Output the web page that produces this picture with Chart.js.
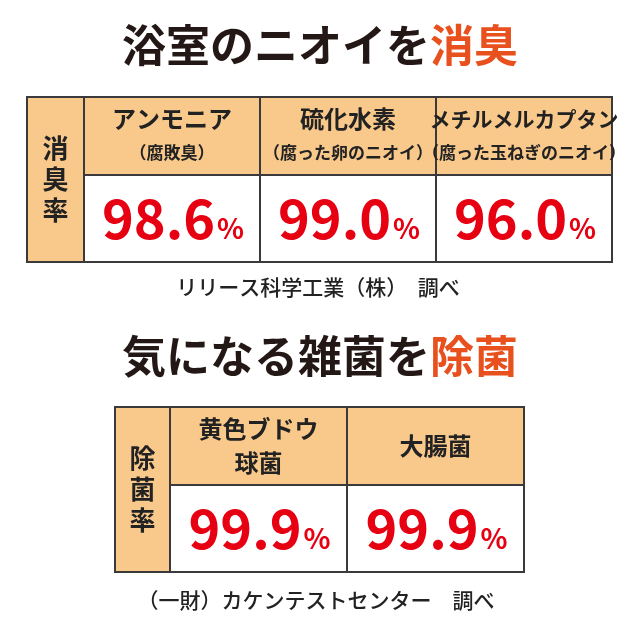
<!DOCTYPE html>
<html><head><meta charset="utf-8">
<script src="https://cdn.jsdelivr.net/npm/chart.js@4"></script>
<style>html,body{margin:0;padding:0;background:#fff}#c{display:block}</style>
</head><body>
<div style="width:640px;height:640px"><canvas id="c"></canvas></div>
<script>
// table 1
var title1 = ["浴室のニオイを", "消臭"];
var rowLabel1 = "消臭率";
var heads1 = [["アンモニア", "（腐敗臭）"], ["硫化水素", "（腐った卵のニオイ）"], ["メチルメルカプタン", "（腐った玉ねぎのニオイ）"]];
var values1 = [98.6, 99.0, 96.0];
var source1 = "リリース科学工業（株）　調べ";
// table 2
var title2 = ["気になる雑菌を", "除菌"];
var rowLabel2 = "除菌率";
var heads2 = [["黄色ブドウ", "球菌"], ["大腸菌"]];
var values2 = [99.9, 99.9];
var source2 = "（一財）カケンテストセンター　調べ";

var FONT = '"Noto Sans CJK JP", sans-serif';
var ORANGE = "#f9c98c", RED = "#e60012", ACC = "#e8501e";

function drawTable(ctx, sx, sy, t) {
  var X = function (v) { return sx.getPixelForValue(v); };
  var Y = function (v) { return sy.getPixelForValue(v); };
  var x0 = X(t.x0), x1 = X(t.x0 + t.labelW), xe = X(t.x1);
  var y0 = Y(t.y0), ym = Y(t.y0 + t.headH), ye = Y(t.y1);
  var n = t.values.length, cw = (xe - x1) / n;
  ctx.fillStyle = ORANGE;
  ctx.fillRect(x0, y0, xe - x0, ym - y0);
  ctx.fillRect(x0, ym, x1 - x0, ye - ym);
  ctx.strokeStyle = "#3a3a3a"; ctx.lineWidth = 2;
  ctx.strokeRect(x0, y0, xe - x0, ye - y0);
  ctx.beginPath();
  ctx.moveTo(x1, y0); ctx.lineTo(x1, ye);
  ctx.moveTo(x1, ym); ctx.lineTo(xe, ym);
  for (var i = 1; i < n; i++) { ctx.moveTo(x1 + cw * i, y0); ctx.lineTo(x1 + cw * i, ye); }
  ctx.stroke();
  ctx.fillStyle = "#222"; ctx.textAlign = "center"; ctx.textBaseline = "middle";
  ctx.font = "bold 26px " + FONT;
  var chars = t.label.split(""), lh = 31, cy = (y0 + ye) / 2 - lh;
  chars.forEach(function (c, k) { ctx.fillText(c, (x0 + x1) / 2, cy + k * lh); });
  for (i = 0; i < n; i++) {
    var cx = x1 + cw * (i + 0.5), h = t.heads[i];
    h.forEach(function (s, k) {
      ctx.fillStyle = "#222";
      ctx.font = (k === 0 ? "bold 24px " : (s.length > 8 ? "bold 17px " : "bold 24px ")) + FONT;
      if (t.headSmall && k > 0) ctx.font = "bold 17px " + FONT;
      if (!t.headSmall) ctx.font = "bold 24px " + FONT;
      if (t.headSmall && k === 0 && s.length > 6) ctx.font = "bold 21px " + FONT;
      var off = h.length === 1 ? 0 : (k === 0 ? -17 : 17);
      ctx.fillText(s, cx, (y0 + ym) / 2 + off);
    });
    var num = t.values[i].toFixed(1);
    ctx.font = "bold 54px " + FONT;
    var w1 = ctx.measureText(num).width;
    ctx.font = "bold 28px " + FONT;
    var w2 = ctx.measureText("%").width;
    var bx = cx - (w1 + w2) / 2, by = (ym + ye) / 2 + 20;
    ctx.fillStyle = RED; ctx.textAlign = "left"; ctx.textBaseline = "alphabetic";
    ctx.font = "bold 54px " + FONT; ctx.fillText(num, bx, by);
    ctx.font = "bold 28px " + FONT; ctx.fillText("%", bx + w1 + 2, by);
    ctx.textAlign = "center"; ctx.textBaseline = "middle";
  }
}
function drawTitle(ctx, x, y, parts) {
  ctx.font = "bold 44px " + FONT; ctx.textBaseline = "middle"; ctx.textAlign = "left";
  var w0 = ctx.measureText(parts[0]).width, w1 = ctx.measureText(parts[1]).width;
  var sx = x - (w0 + w1) / 2;
  ctx.fillStyle = "#231815"; ctx.fillText(parts[0], sx, y);
  ctx.fillStyle = ACC; ctx.fillText(parts[1], sx + w0, y);
}

var infographic = {
  id: "infographic",
  afterDraw: function (chart) {
    var ctx = chart.ctx, sx = chart.scales.x, sy = chart.scales.y;
    ctx.save();
    drawTitle(ctx, sx.getPixelForValue(320), sy.getPixelForValue(45), title1);
    drawTable(ctx, sx, sy, { x0: 27, x1: 612, labelW: 57, y0: 97, headH: 78, y1: 262,
      label: rowLabel1, heads: heads1, values: values1, headSmall: true });
    ctx.fillStyle = "#222"; ctx.font = "500 21px " + FONT; ctx.textAlign = "center";
    ctx.fillText(source1, sx.getPixelForValue(318), sy.getPixelForValue(287));
    drawTitle(ctx, sx.getPixelForValue(320), sy.getPixelForValue(356), title2);
    drawTable(ctx, sx, sy, { x0: 115, x1: 524, labelW: 55, y0: 407, headH: 78, y1: 572,
      label: rowLabel2, heads: heads2, values: values2, headSmall: false });
    ctx.fillStyle = "#222"; ctx.font = "500 21px " + FONT; ctx.textAlign = "center";
    ctx.fillText(source2, sx.getPixelForValue(316), sy.getPixelForValue(600));
    ctx.restore();
  }
};

new Chart(document.getElementById("c"), {
  type: "scatter",
  data: { datasets: [{ data: [] }] },
  options: {
    responsive: true, maintainAspectRatio: false, animation: false,
    layout: { padding: 0 },
    plugins: { legend: { display: false }, tooltip: { enabled: false } },
    scales: {
      x: { type: "linear", min: 0, max: 640, display: false },
      y: { type: "linear", min: 0, max: 640, reverse: true, display: false }
    }
  },
  plugins: [infographic]
});
</script>
</body></html>
